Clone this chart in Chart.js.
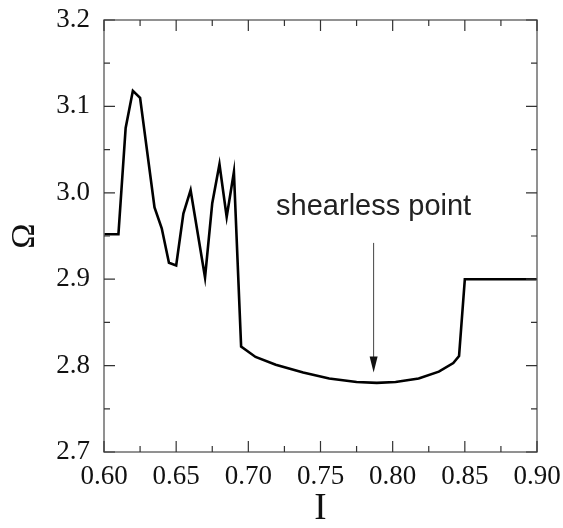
<!DOCTYPE html>
<html>
<head>
<meta charset="utf-8">
<script src="https://cdn.jsdelivr.net/npm/chart.js@4.4.1/dist/chart.umd.min.js"></script>
<style>
  html, body { margin: 0; padding: 0; background: #fff; }
  #wrap { width: 563px; height: 528px; }
</style>
</head>
<body>
<div id="wrap"><canvas id="omegaChart"></canvas></div>
<script>
// values
const currentI = [0.600, 0.610, 0.615, 0.620, 0.625, 0.635, 0.640, 0.645, 0.650, 0.655,
                  0.660, 0.670, 0.675, 0.680, 0.685, 0.690, 0.695, 0.705, 0.719, 0.738,
                  0.756, 0.775, 0.789, 0.802, 0.818, 0.832, 0.842, 0.846, 0.850, 0.900];
const omega = [2.952, 2.952, 3.075, 3.118, 3.110, 2.983, 2.959, 2.919, 2.916, 2.976,
               3.003, 2.902, 2.988, 3.033, 2.972, 3.024, 2.822, 2.810, 2.801, 2.792,
               2.785, 2.781, 2.780, 2.781, 2.785, 2.793, 2.803, 2.811, 2.900, 2.900];
const xTicks = [0.60, 0.65, 0.70, 0.75, 0.80, 0.85, 0.90];
const yTicks = [2.7, 2.8, 2.9, 3.0, 3.1, 3.2];

// annotation (data coordinates)
const noteText = 'shearless point';
const noteI = 0.7868;
const noteOmega = 2.974;
const arrowFrom = 2.942;
const arrowTo = 2.792;

document.addEventListener('DOMContentLoaded', function() {
    const serif = '"Liberation Serif", "Times New Roman", serif';

    // the plot box is fixed by layout padding, drop the scales' own label padding
    function noPad(scale) {
        scale.paddingTop = 0;
        scale.paddingBottom = 0;
        scale.paddingLeft = 0;
        scale.paddingRight = 0;
    }

    // frame with inward ticks on all four sides
    const framePlugin = {
        id: 'frame',
        afterDraw(chart) {
            const ctx = chart.ctx;
            const a = chart.chartArea;
            const xs = chart.scales.x, ys = chart.scales.y;
            ctx.save();
            ctx.strokeStyle = '#6e6e6e';
            ctx.lineWidth = 1.5;
            ctx.strokeRect(a.left, a.top, a.right - a.left, a.bottom - a.top);

            ctx.strokeStyle = '#333';
            ctx.lineWidth = 1.2;
            ctx.beginPath();
            xTicks.forEach(function(v, i) {
                const px = xs.getPixelForValue(v);
                ctx.moveTo(px, a.bottom); ctx.lineTo(px, a.bottom - 11);
                ctx.moveTo(px, a.top); ctx.lineTo(px, a.top + 11);
                if (i < xTicks.length - 1) {
                    const m = xs.getPixelForValue((v + xTicks[i + 1]) / 2);
                    ctx.moveTo(m, a.bottom); ctx.lineTo(m, a.bottom - 6);
                    ctx.moveTo(m, a.top); ctx.lineTo(m, a.top + 6);
                }
            });
            yTicks.forEach(function(v, i) {
                const py = ys.getPixelForValue(v);
                ctx.moveTo(a.left, py); ctx.lineTo(a.left + 11, py);
                ctx.moveTo(a.right, py); ctx.lineTo(a.right - 11, py);
                if (i < yTicks.length - 1) {
                    const m = ys.getPixelForValue((v + yTicks[i + 1]) / 2);
                    ctx.moveTo(a.left, m); ctx.lineTo(a.left + 6, m);
                    ctx.moveTo(a.right, m); ctx.lineTo(a.right - 6, m);
                }
            });
            ctx.stroke();

            // arrow + note
            const ax = xs.getPixelForValue(noteI);
            const y0 = ys.getPixelForValue(arrowFrom);
            const y1 = ys.getPixelForValue(arrowTo);
            ctx.strokeStyle = '#444';
            ctx.lineWidth = 1;
            ctx.beginPath();
            ctx.moveTo(ax, y0); ctx.lineTo(ax, y1 - 14);
            ctx.stroke();
            ctx.fillStyle = '#111';
            ctx.beginPath();
            ctx.moveTo(ax, y1);
            ctx.lineTo(ax - 4, y1 - 16);
            ctx.lineTo(ax + 4, y1 - 16);
            ctx.closePath();
            ctx.fill();

            ctx.font = '29px "Liberation Sans", Arial, sans-serif';
            ctx.textAlign = 'center';
            ctx.textBaseline = 'alphabetic';
            ctx.fillStyle = '#222';
            ctx.fillText(noteText, xs.getPixelForValue(noteI), ys.getPixelForValue(noteOmega));
            ctx.restore();
        }
    };

    const ctx = document.getElementById('omegaChart').getContext('2d');
    const chart = new Chart(ctx, {
        type: 'line',
        data: {
            labels: currentI,
            datasets: [{
                label: 'Omega',
                data: currentI.map(function(v, i) { return { x: v, y: omega[i] }; }),
                borderColor: '#000',
                borderWidth: 2.6,
                pointRadius: 0,
                fill: false,
                tension: 0
            }]
        },
        options: {
            responsive: true,
            maintainAspectRatio: false,
            animation: false,
            layout: { padding: { left: 0, right: 26, top: 20, bottom: 0 } },
            plugins: {
                legend: { display: false },
                tooltip: { enabled: false }
            },
            scales: {
                x: {
                    type: 'linear',
                    min: 0.60,
                    max: 0.90,
                    border: { display: false },
                    grid: { display: false, drawTicks: false, tickLength: 0 },
                    afterBuildTicks: function(scale) {
                        scale.ticks = xTicks.map(function(v) { return { value: v }; });
                    },
                    afterFit: function(scale) { scale.height = 76; noPad(scale); },
                    ticks: {
                        padding: 9,
                        maxRotation: 0,
                        color: '#111',
                        font: { family: serif, size: 27 },
                        callback: function(v) { return Number(v).toFixed(2); }
                    },
                    title: {
                        display: true,
                        text: 'I',
                        color: '#111',
                        font: { family: serif, size: 37, lineHeight: 1 },
                        padding: { top: 0, bottom: 0 }
                    }
                },
                y: {
                    min: 2.7,
                    max: 3.2,
                    border: { display: false },
                    grid: { display: false, drawTicks: false, tickLength: 0 },
                    afterBuildTicks: function(scale) {
                        scale.ticks = yTicks.map(function(v) { return { value: v }; });
                    },
                    afterFit: function(scale) { scale.width = 104; noPad(scale); },
                    ticks: {
                        padding: 14,
                        color: '#111',
                        font: { family: serif, size: 27 },
                        callback: function(v) { return Number(v).toFixed(1); }
                    },
                    title: {
                        display: true,
                        text: 'Ω',
                        color: '#111',
                        font: { family: serif, size: 34, lineHeight: 1.2 },
                        padding: { top: 5, bottom: 0 }
                    }
                }
            }
        },
        plugins: [framePlugin]
    });
});
</script>
</body>
</html>
